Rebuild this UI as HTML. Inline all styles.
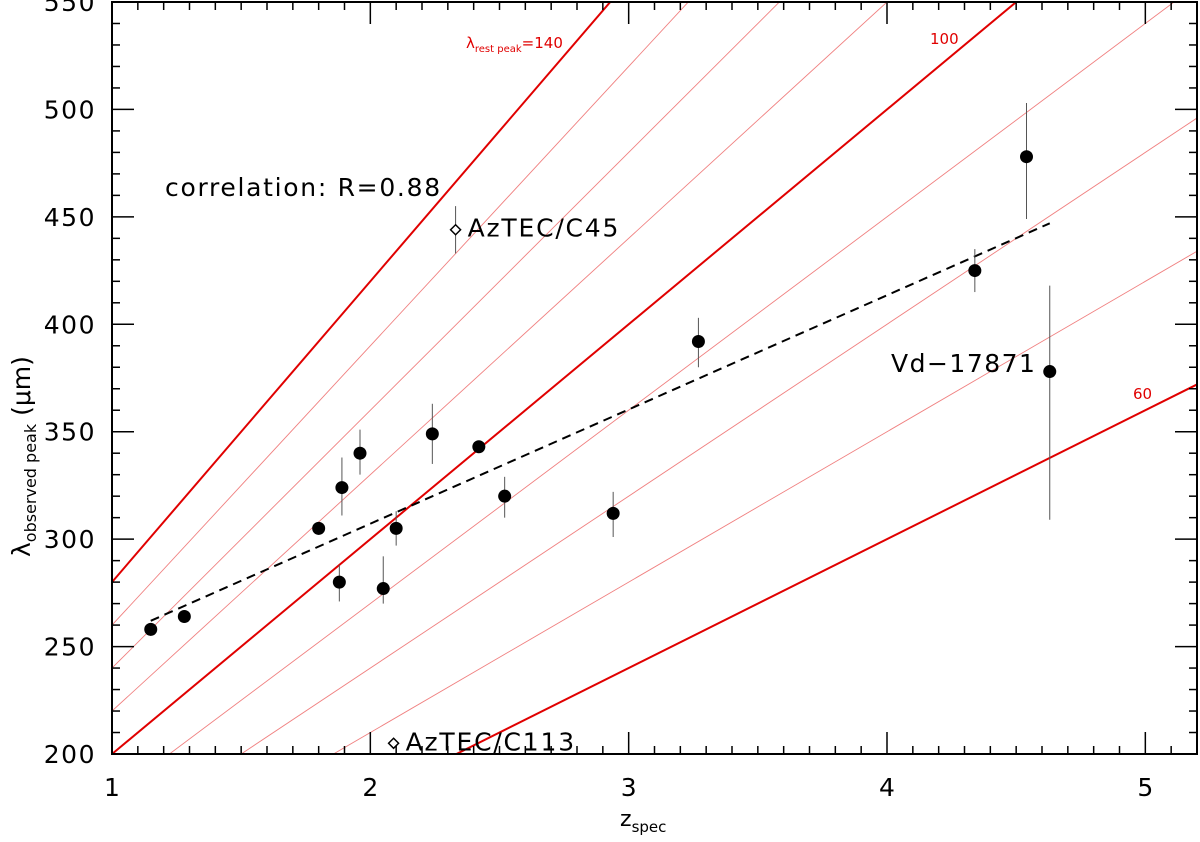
<!DOCTYPE html>
<html><head><meta charset="utf-8"><style>
html,body{margin:0;padding:0;background:#fff;width:1200px;height:842px;overflow:hidden;position:relative;}
svg{display:block;font-family:"DejaVu Sans","Liberation Sans",sans-serif;overflow:hidden;}
</style></head><body>
<svg id="chart" width="1200" height="842" viewBox="0 0 1200 842"></svg>
<script>
const zVals=[1.15,1.28,1.8,1.88,1.89,1.96,2.05,2.1,2.24,2.42,2.52,2.94,3.27,4.34,4.54,4.63];
const lamVals=[258,264,305,280,324,340,277,305,349,343,320,312,392,425,478,378];
const errLo=[3,2,3,9,13,10,7,8,14,2,10,11,12,10,29,69];
const errHi=[3,2,3,8,14,11,15,8,14,2,9,10,11,10,25,40];
const specialZ=[2.33,2.09];
const specialLam=[444,205];
const specialErr=[11,0];
const specialNames=["AzTEC/C45","AzTEC/C113"];
const restPeaks=[140,130,120,110,100,90,80,70,60];
const fitZ=[1.15,4.63];
const fitLam=[262,447];
const xTicks=[1,2,3,4,5];
const yTicks=[200,250,300,350,400,450,500,550];

const L=112,R=1197,T=2,B=754;
const xMin=1,xMax=5.2,yMin=200,yMax=550;
const X=v=>L+(v-xMin)/(xMax-xMin)*(R-L);
const Y=v=>B-(v-yMin)/(yMax-yMin)*(B-T);
const svg=document.getElementById('chart');
const NS='http://www.w3.org/2000/svg';
function mk(tag,attrs,parent){const e=document.createElementNS(NS,tag);for(const k in attrs)e.setAttribute(k,attrs[k]);(parent||svg).appendChild(e);return e;}

const defs=mk('defs',{});const cp=mk('clipPath',{id:'clip'},defs);mk('rect',{x:L,y:T,width:R-L,height:B-T},cp);

const lg=mk('g',{'clip-path':'url(#clip)'});


restPeaks.forEach(r=>{
  const thick=(r===140||r===100||r===60);
  const l=mk('line',{x1:X(xMin),y1:Y(r*(1+xMin)),x2:X(xMax),y2:Y(r*(1+xMax)),stroke:thick?'#e00000':'#f08080','stroke-width':thick?2:0.9},lg);
  
  
});

const fl=mk('line',{x1:X(fitZ[0]),y1:Y(fitLam[0]),x2:X(fitZ[1]),y2:Y(fitLam[1]),stroke:'#000','stroke-width':2,'stroke-dasharray':'9,6'});



zVals.forEach((z,i)=>{
  const eb=mk('line',{x1:X(z),x2:X(z),y1:Y(lamVals[i]-errLo[i]),y2:Y(lamVals[i]+errHi[i]),stroke:'#555','stroke-width':1});
  
  
  const c=mk('circle',{cx:X(z),cy:Y(lamVals[i]),r:6.5,fill:'#000'});
  
  
});
specialZ.forEach((z,i)=>{
  if(specialErr[i]>0){
    const eb=mk('line',{x1:X(z),x2:X(z),y1:Y(specialLam[i]-specialErr[i]),y2:Y(specialLam[i]+specialErr[i]),stroke:'#555','stroke-width':1});
    
    
  }
  const cx=X(z),cy=Y(specialLam[i]);
  const d=mk('polygon',{points:`${cx},${cy-5} ${cx+5},${cy} ${cx},${cy+5} ${cx-5},${cy}`,fill:'#fff',stroke:'#000','stroke-width':1.5});
  
  
  const t=mk('text',{x:cx+12,y:cy+7,'font-size':25,'letter-spacing':1.8});t.textContent=specialNames[i];
  
  
});

const fr=mk('rect',{x:L,y:T,width:R-L,height:B-T,fill:'none',stroke:'#000','stroke-width':2});



const tg=mk('g',{stroke:'#000','stroke-width':1.5});


for(let k=0;k<=42;k++){const v=xMin+k*0.1;const x=X(v);const len=(k%10===0)?22:8;
  mk('line',{x1:x,x2:x,y1:B,y2:B-len},tg);mk('line',{x1:x,x2:x,y1:T,y2:T+len},tg);}
for(let v=yMin;v<=yMax;v+=10){const y=Y(v);const len=(v%50===0)?22:8;
  mk('line',{x1:L,x2:L+len,y1:y,y2:y},tg);mk('line',{x1:R,x2:R-len,y1:y,y2:y},tg);}
xTicks.forEach(v=>{const t=mk('text',{x:X(v),y:796,'font-size':25,'text-anchor':'middle'});t.textContent=v;
  
  });
yTicks.forEach(v=>{const t=mk('text',{x:L-16,y:Y(v)+9,'font-size':25,'text-anchor':'end','letter-spacing':1.5});t.textContent=v;
  
  });

function txt(attrs,name,content){const t=mk('text',attrs);t.innerHTML=content;
  
  return t;}
txt({x:620,y:826,'font-size':22},'x-axis-title','z<tspan font-size="15" dy="6">spec</tspan>');
txt({transform:'translate(30,557) rotate(-90)','font-size':25},'y-axis-title','λ<tspan font-size="16" dy="6">observed peak</tspan><tspan dy="-6"> (μm)</tspan>');
txt({x:165,y:196,'font-size':25,'letter-spacing':1.7},'correlation-label','correlation: R=0.88');
txt({x:891,y:372,'font-size':25,'letter-spacing':1.5},'vd-17871-label','Vd−17871');
txt({x:466,y:48,'font-size':15,fill:'#e00000'},'rest-peak-140-label','λ<tspan font-size="10" dy="4">rest peak</tspan><tspan dy="-4">=140</tspan>');
txt({x:930,y:44,'font-size':15,fill:'#e00000'},'rest-peak-100-label','100');
txt({x:1133,y:399,'font-size':15,fill:'#e00000'},'rest-peak-60-label','60');
</script>
</body></html>
